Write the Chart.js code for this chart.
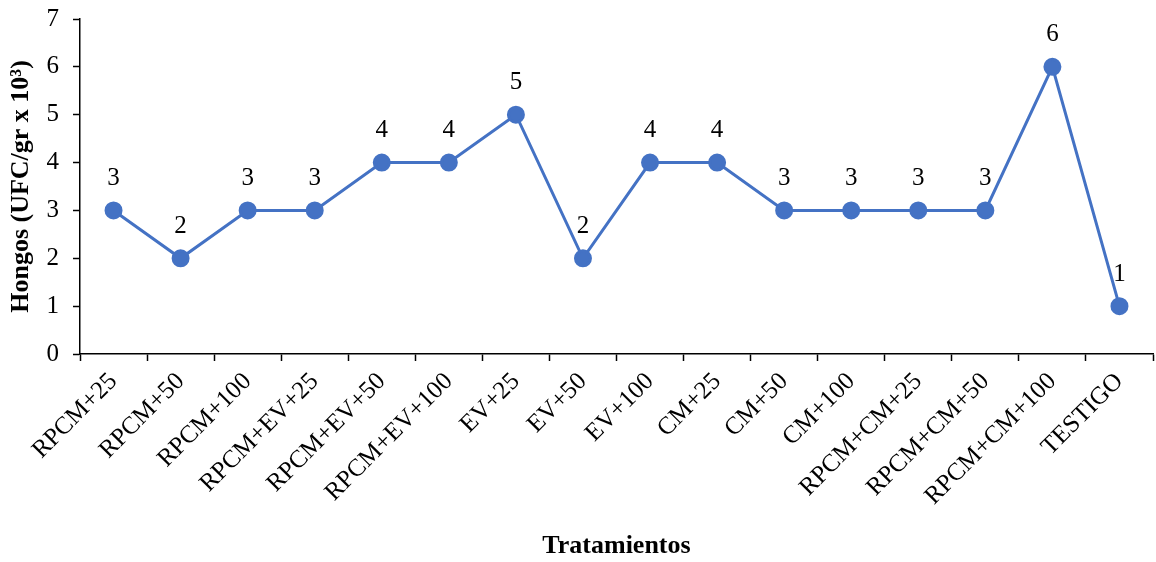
<!DOCTYPE html>
<html>
<head>
<meta charset="utf-8">
<script src="https://cdn.jsdelivr.net/npm/chart.js@4.4.1/dist/chart.umd.min.js"></script>
<style>
  html, body { margin: 0; padding: 0; background: #fff; }
  #wrap { width: 1156px; height: 562px; }
</style>
</head>
<body>
<div id="wrap"><canvas id="canvas" width="1156" height="562"></canvas></div>
<script>
const tratamientos = [
  "RPCM+25", "RPCM+50", "RPCM+100", "RPCM+EV+25", "RPCM+EV+50", "RPCM+EV+100",
  "EV+25", "EV+50", "EV+100", "CM+25", "CM+50", "CM+100",
  "RPCM+CM+25", "RPCM+CM+50", "RPCM+CM+100", "TESTIGO"
]
const hongos = [3, 2, 3, 3, 4, 4, 5, 2, 4, 4, 3, 3, 3, 3, 6, 1]
const yTicks = [0, 1, 2, 3, 4, 5, 6, 7]

const serif = "'Liberation Serif', 'Times New Roman', serif"
const blue = "#4472C4"

// labels above each point
const valueLabels = {
  id: "valueLabels",
  afterDatasetsDraw(chart) {
    const ctx = chart.ctx
    const meta = chart.getDatasetMeta(0)
    ctx.save()
    ctx.font = "25px " + serif
    ctx.fillStyle = "#000"
    ctx.textAlign = "center"
    ctx.textBaseline = "middle"
    meta.data.forEach((pt, i) => {
      ctx.fillText(String(hongos[i]), pt.x, pt.y - 32)
    })
    ctx.restore()
  }
}

new Chart(document.getElementById("canvas"), {
  type: "line",
  data: {
    labels: tratamientos,
    datasets: [{
      data: hongos,
      borderColor: blue,
      backgroundColor: blue,
      borderWidth: 3,
      pointRadius: 7.5,
      pointHoverRadius: 7.5,
      tension: 0,
      clip: false
    }]
  },
  options: {
    responsive: false,
    animation: false,
    devicePixelRatio: 1,
    layout: { autoPadding: false, padding: { top: 19, right: 3, left: 0, bottom: 0 } },
    plugins: {
      legend: { display: false },
      tooltip: { enabled: false }
    },
    scales: {
      x: {
        offset: true,
        afterFit: s => { s.height = 208; s.paddingRight = 0; s.paddingLeft = 0 },
        grid: {
          drawOnChartArea: false,
          drawTicks: true,
          tickLength: 7,
          tickWidth: 1.5,
          tickColor: "#000",
          offset: true
        },
        border: { color: "#000", width: 1.5 },
        ticks: {
          color: "#000",
          font: { family: serif, size: 25 },
          minRotation: 45,
          maxRotation: 45,
          autoSkip: false,
          padding: 6
        },
        title: {
          display: true,
          text: "Tratamientos",
          color: "#000",
          font: { family: serif, size: 26, weight: "bold" },
          padding: { top: 0, bottom: 0 }
        }
      },
      y: {
        min: 0,
        max: 7,
        afterFit: s => { s.width = 80; s.paddingTop = 0; s.paddingBottom = 0 },
        afterBuildTicks: s => { s.ticks = yTicks.map(v => ({ value: v })) },
        grid: {
          drawOnChartArea: false,
          drawTicks: true,
          tickLength: 7,
          tickWidth: 1.5,
          tickColor: "#000"
        },
        border: { color: "#000", width: 1.5 },
        ticks: {
          color: "#000",
          font: { family: serif, size: 25 },
          padding: 14
        },
        title: {
          display: true,
          text: "Hongos (UFC/gr x 10³)",
          color: "#000",
          font: { family: serif, size: 26, weight: "bold" },
          padding: { top: 6, bottom: 0 }
        }
      }
    }
  },
  plugins: [valueLabels]
})
</script>
</body>
</html>
